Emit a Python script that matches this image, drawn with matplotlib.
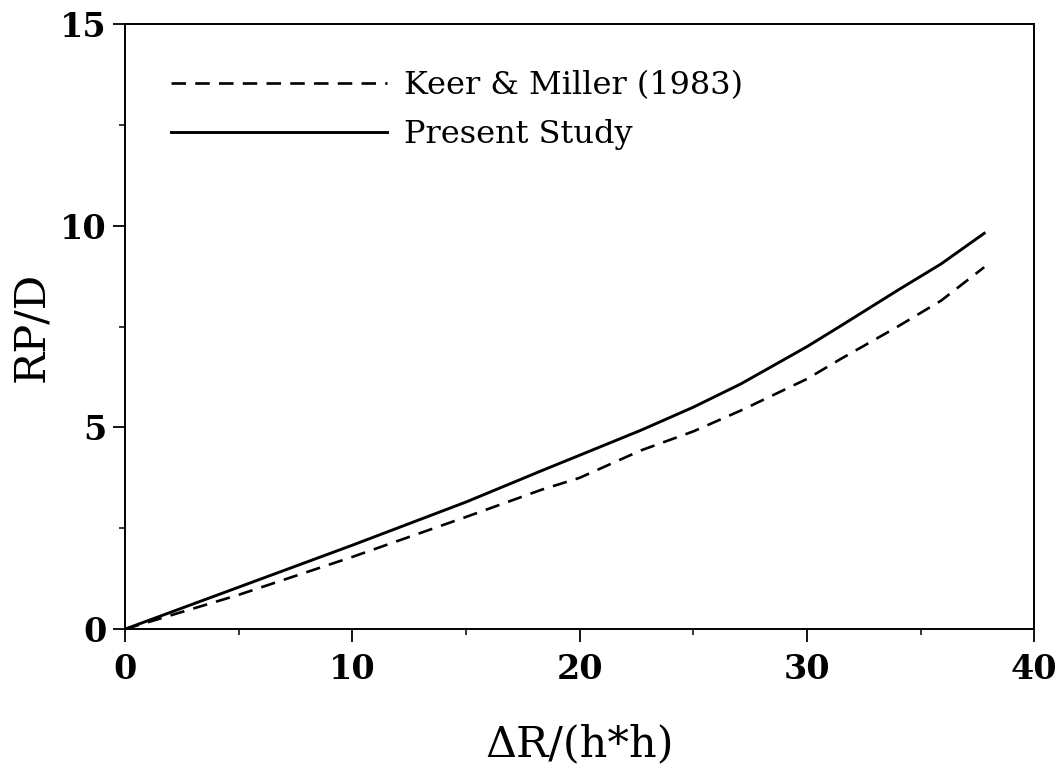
import numpy as np
import matplotlib.pyplot as plt
from matplotlib.ticker import MultipleLocator

# values
dr = [0, 5, 10, 15, 18.3, 20, 22.7, 25, 27.1, 30, 31.5, 34, 35.9, 37.8]
rp_keer = [0, 0.85, 1.79, 2.78, 3.45, 3.75, 4.43, 4.9, 5.42, 6.2, 6.7, 7.5, 8.14, 8.97]
rp_present = [0, 1.04, 2.08, 3.15, 3.92, 4.31, 4.93, 5.5, 6.08, 7.0, 7.52, 8.4, 9.05, 9.81]

labels = ['Keer & Miller (1983)', 'Present Study']

plt.rcParams['font.family'] = ['DejaVu Serif']

fig = plt.figure(figsize=(10.64, 7.71), dpi=100)
ax = fig.add_axes([0.1175, 0.184, 0.8545, 0.785])

ax.plot(dr, rp_keer, color='black', lw=1.9, dashes=(5.5, 3.5), label=labels[0])
ax.plot(dr, rp_present, color='black', lw=2.1, label=labels[1])

ax.set_xlim(0, 40)
ax.set_ylim(0, 15)
ax.xaxis.set_major_locator(MultipleLocator(10))
ax.xaxis.set_minor_locator(MultipleLocator(5))
ax.yaxis.set_major_locator(MultipleLocator(5))
ax.yaxis.set_minor_locator(MultipleLocator(2.5))

ax.tick_params(which='major', direction='out', length=9, width=1.3, top=False, right=False)
ax.tick_params(which='minor', direction='out', length=4.5, width=1.1, top=False, right=False)
ax.tick_params(axis='x', which='major', pad=8)
ax.tick_params(axis='y', which='major', pad=4)
for lab in ax.get_xticklabels() + ax.get_yticklabels():
    lab.set_fontsize(24)
    lab.set_fontweight('bold')

for sp in ax.spines.values():
    sp.set_linewidth(1.4)

ax.set_xlabel('ΔR/(h*h)', fontsize=31, labelpad=27)
ax.set_ylabel('RP/D', fontsize=31, labelpad=6)

leg = ax.legend(loc='upper left', frameon=False, fontsize=23, handlelength=6.75,
                handletextpad=0.53, labelspacing=0.55, borderaxespad=1.05,
                bbox_to_anchor=(0.0, 1.0))

fig.savefig('out.png', dpi=100, facecolor='white')
